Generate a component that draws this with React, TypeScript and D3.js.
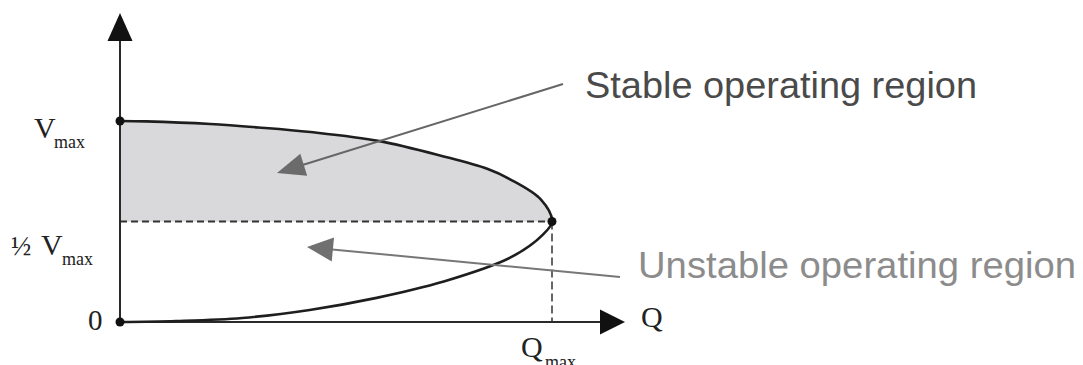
import React from "react";
import * as d3 from "d3";

// Normalised data: Q / Qmax and V / Vmax
const upperQ = [0, 0.06, 0.209, 0.32, 0.441, 0.601, 0.747, 0.85, 0.903, 0.974, 1];
const upperV = [1, 0.998, 0.985, 0.968, 0.945, 0.9, 0.825, 0.762, 0.71, 0.61, 0.5];
const lowerQ = [1, 0.979, 0.903, 0.747, 0.594, 0.439, 0.283, 0.13, 0];
const lowerV = [0.5, 0.435, 0.32, 0.2, 0.12, 0.06, 0.02, 0.005, 0];
const stableLabel = "Stable operating region";
const unstableLabel = "Unstable operating region";

const W = 1083;
const H = 365;

export default function App() {
  const x = d3.scaleLinear().domain([0, 1]).range([120, 552]);
  const y = d3.scaleLinear().domain([0, 1]).range([322, 121]);

  const upper = upperQ.map((q, i) => [x(q), y(upperV[i])] as [number, number]);
  const lower = lowerQ.map((q, i) => [x(q), y(lowerV[i])] as [number, number]);
  const all = upper.concat(lower.slice(1));

  const line = d3.line().curve(d3.curveCatmullRom.alpha(0.5));
  const curvePath = line(all) || "";
  const fillPath = `${line(upper) || ""} L${x(0)},${y(0.5)} Z`;

  const arrowHead = (tx: number, ty: number, fx: number, fy: number, len: number, hw: number) => {
    const dx = tx - fx;
    const dy = ty - fy;
    const L = Math.hypot(dx, dy);
    const ux = dx / L;
    const uy = dy / L;
    const bx = tx - ux * len;
    const by = ty - uy * len;
    const px = -uy * hw;
    const py = ux * hw;
    return `M${tx},${ty} L${bx + px},${by + py} L${bx - px},${by - py} Z`;
  };

  const axisColor = "#2a2a2a";
  const serif = "'Liberation Serif', 'DejaVu Serif', serif";
  const sans = "'Liberation Sans', Arial, sans-serif";

  const sFrom: [number, number] = [563, 84];
  const sTo: [number, number] = [277, 173];
  const uFrom: [number, number] = [620, 277];
  const uTo: [number, number] = [307, 247];
  const shorten = (from: [number, number], to: [number, number], d: number): [number, number] => {
    const dx = to[0] - from[0];
    const dy = to[1] - from[1];
    const L = Math.hypot(dx, dy);
    return [to[0] - (dx / L) * d, to[1] - (dy / L) * d];
  };
  const sEnd = shorten(sFrom, sTo, 20);
  const uEnd = shorten(uFrom, uTo, 20);

  return (
    <svg
      width={W}
      height={H}
      style={{ position: "absolute", left: 0, top: 0, background: "#fff" }}
    >
      <path d={fillPath} fill="#d9d9dc" stroke="none" />

      <line
        x1={x(0)}
        y1={y(0.5)}
        x2={x(1)}
        y2={y(0.5)}
        stroke="#333"
        strokeWidth={2}
        strokeDasharray="7,4"
      />
      <line
        x1={x(1)}
        y1={y(0.5)}
        x2={x(1)}
        y2={y(0)}
        stroke="#333"
        strokeWidth={1.5}
        strokeDasharray="8,4"
      />

      <line x1={x(0)} y1={y(0)} x2={x(0)} y2={36} stroke={axisColor} strokeWidth={2} />
      <path d={`M${x(0)},13 L${x(0) - 12.5},41 L${x(0) + 12.5},41 Z`} fill="#111" />
      <line x1={x(0)} y1={y(0)} x2={603} y2={y(0)} stroke={axisColor} strokeWidth={2} />
      <path d={`M625,${y(0)} L600,${y(0) - 12.5} L600,${y(0) + 12.5} Z`} fill="#111" />

      <path d={curvePath} fill="none" stroke="#1e1e1e" strokeWidth={2.6} />

      <circle cx={x(0)} cy={y(1)} r={4.5} fill="#111" />
      <circle cx={x(0)} cy={y(0)} r={4.5} fill="#111" />
      <circle cx={x(1)} cy={y(0.5)} r={4.5} fill="#111" />

      <line x1={sFrom[0]} y1={sFrom[1]} x2={sEnd[0]} y2={sEnd[1]} stroke="#666" strokeWidth={2} />
      <path d={arrowHead(sTo[0], sTo[1], sFrom[0], sFrom[1], 28, 11.5)} fill="#6b6b6b" />
      <line x1={uFrom[0]} y1={uFrom[1]} x2={uEnd[0]} y2={uEnd[1]} stroke="#777" strokeWidth={2} />
      <path d={arrowHead(uTo[0], uTo[1], uFrom[0], uFrom[1], 26, 12)} fill="#707070" />

      <text x={585} y={98} fontFamily={sans} fontSize={36} fill="#4a4a4a" textLength={392} lengthAdjust="spacingAndGlyphs">
        {stableLabel}
      </text>
      <text x={638} y={278} fontFamily={sans} fontSize={37} fill="#8c8c8c" textLength={438} lengthAdjust="spacingAndGlyphs">
        {unstableLabel}
      </text>

      <g fontFamily={serif} fill="#222">
        <text x={34} y={138} fontSize={30}>V</text>
        <text x={54} y={148} fontSize={18}>max</text>

        <text x={11} y={255} fontSize={27}>½</text>
        <text x={41} y={255} fontSize={30}>V</text>
        <text x={62} y={265} fontSize={18}>max</text>

        <text x={88} y={330} fontSize={29}>0</text>

        <text x={641} y={327} fontSize={30}>Q</text>

        <text x={521} y={357} fontSize={30}>Q</text>
        <text x={545} y={368} fontSize={18}>max</text>
      </g>
    </svg>
  );
}
